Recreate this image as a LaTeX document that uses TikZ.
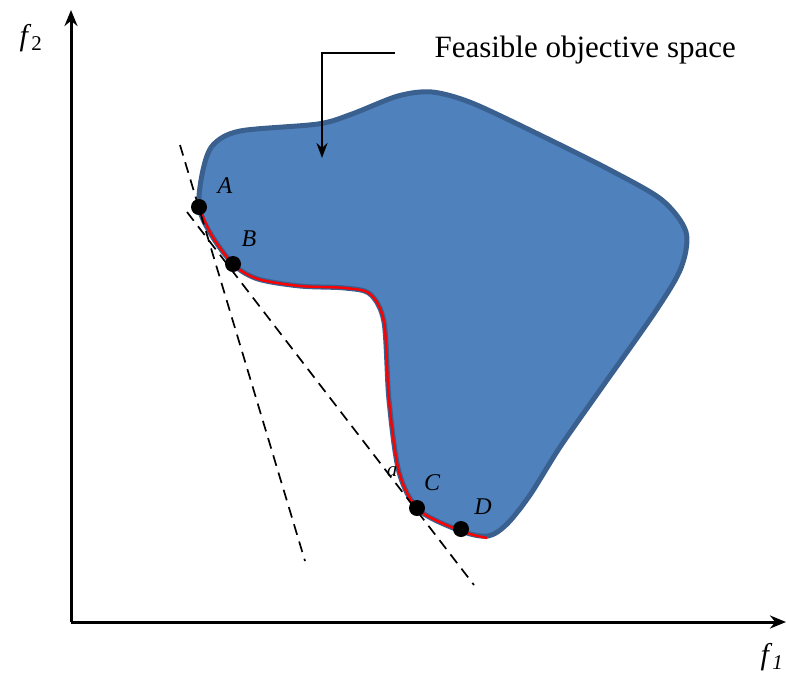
\documentclass[tikz,border=0pt]{standalone}
\usepackage{fontspec}
\setmainfont{Liberation Serif}
\usetikzlibrary{arrows.meta}
\begin{document}
\begin{tikzpicture}[
    x=1pt,y=-1pt,
    font=\rmfamily\fontsize{24}{28}\selectfont,
    axisline/.style={line width=3pt,-{Stealth[length=16pt,width=13pt]}},
    tangentline/.style={line width=1.7pt,dash pattern=on 11pt off 7pt},
    paretodot/.style={circle,fill=black,inner sep=0pt,minimum size=16pt},
    ptlabel/.style={font=\itshape\fontsize{24}{28}\selectfont},
    axislabel/.style={font=\rmfamily\fontsize{30}{34}\selectfont}
  ]
    \definecolor{fblue}{HTML}{4F81BD}
    \definecolor{fedge}{HTML}{3A6090}
    \path[use as bounding box] (0,0) rectangle (786,673);
    % axes
    \coordinate (origin) at (71,622);
    \coordinate (yend) at (71,10);
    \coordinate (xend) at (786,622);
    \draw[axisline] (origin) -- (yend);
    \draw[axisline] (origin) -- (xend);
    \node[axislabel] (ftwo) at (31,38) {\textit{f}\textsubscript{2}};
    \node[axislabel] (fone) at (772,657) {\textit{f}\textsubscript{\textit{1}}};
    % feasible region
    \draw[fill=fblue,draw=fedge,line width=5pt,line join=round]
      plot[smooth cycle,tension=0.5] coordinates {
        (199,207) (203,170) (213,145) (240,131) (318,124) (352,114)
        (398,96) (432,92) (472,103) (540,135) (610,170) (662,200)
        (686,232) (681,268) (655,312) (600,390) (560,447) (530,495)
        (507,524) (488,536) (461,531) (419,510) (399,472) (389,400) (384,322)
        (370,294) (345,288) (300,286) (258,279) (234,265) (212,236)};
    % pareto front
    \draw[red,line width=2.4pt]
      plot[smooth,tension=0.5] coordinates {
        (199,207) (212,236) (234,265) (258,279) (300,286) (345,288)
        (370,294) (384,322) (389,400) (399,472) (419,510) (461,531)
        (487,538)};
    % tangent lines
    \coordinate (t1a) at (180,145);
    \coordinate (t1b) at (305,561);
    \coordinate (t2a) at (187,212);
    \coordinate (t2b) at (474,585);
    \draw[tangentline] (t1a) -- (t1b);
    \draw[tangentline] (t2a) -- (t2b);
    % points
    \node[paretodot] (A) at (199,207) {};
    \node[paretodot] (B) at (233,264) {};
    \node[paretodot] (C) at (417,508) {};
    \node[paretodot] (D) at (461,529) {};
    \node[ptlabel] (Alab) at (225,186) {A};
    \node[ptlabel] (Blab) at (249,239) {B};
    \node[ptlabel] (Clab) at (432,483) {C};
    \node[ptlabel] (Dlab) at (483,507) {D};
    \node[ptlabel,font=\itshape\fontsize{21}{24}\selectfont] (alpha) at (392,472) {a};
    % callout
    \node[anchor=west,font=\rmfamily\fontsize{31}{34}\selectfont] (space) at (431,50) {Feasible objective space};
    \coordinate (bend) at (322,53);
    \coordinate (tip) at (322,158);
    \draw[line width=2pt,-{Stealth[length=15pt,width=11pt]}]
      (space.west |- bend) ++(-36,0) -- (bend) -- (tip);
  \end{tikzpicture}
\end{document}
